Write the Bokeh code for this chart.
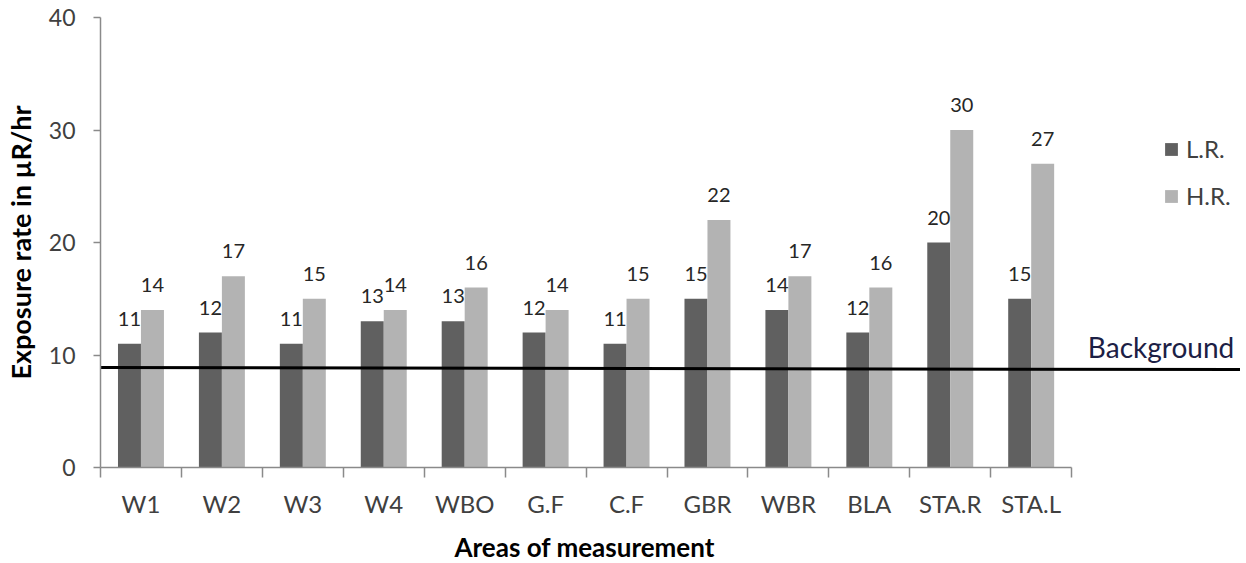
import numpy as np
from bokeh.plotting import figure
from bokeh.models import (Range1d, FixedTicker, Legend, LegendItem, Label, Title, ColumnDataSource)
from bokeh.core.properties import value
from bokeh.embed import file_html
from bokeh.resources import INLINE

# ---------------- data ----------------
categories = ["W1", "W2", "W3", "W4", "WBO", "G.F", "C.F", "GBR", "WBR", "BLA", "STA.R", "STA.L"]
lr_values = [11, 12, 11, 13, 13, 12, 11, 15, 14, 12, 20, 15]
hr_values = [14, 17, 15, 14, 16, 14, 15, 22, 17, 16, 30, 27]
series_names = ["L.R.", "H.R."]
background_level = [8.9, 8.7]   # hand drawn line, left end / right end
y_ticks = [0, 10, 20, 30, 40]

# ---------------- style ----------------
FONT = "Lato"
DARK = "#606060"
LIGHT = "#b3b3b3"
AXIS = "#8a8a8a"
TXT = "#404040"
BAR_W = 0.284
X_END = 1141 / 81.0

n = len(categories)
centers = np.arange(n) + 0.5
x_lr = centers - BAR_W / 2
x_hr = centers + BAR_W / 2

p = figure(width=1240, height=563, output_backend="svg", toolbar_location=None,
           x_range=Range1d(0, X_END), y_range=Range1d(0, 40),
           min_border_left=99, min_border_right=0, min_border_top=17, min_border_bottom=96)
p.outline_line_color = None
p.xgrid.grid_line_color = None
p.ygrid.grid_line_color = None
p.background_fill_color = "white"

src_lr = ColumnDataSource(dict(x=x_lr, top=lr_values, lab=[str(v) for v in lr_values]))
src_hr = ColumnDataSource(dict(x=x_hr, top=hr_values, lab=[str(v) for v in hr_values]))

r_lr = p.vbar(x="x", top="top", bottom=0, width=BAR_W, source=src_lr,
              fill_color=DARK, line_color=None)
r_hr = p.vbar(x="x", top="top", bottom=0, width=BAR_W, source=src_hr,
              fill_color=LIGHT, line_color=None)

for src in (src_lr, src_hr):
    p.text(x="x", y="top", text="lab", source=src, text_font=value(FONT),
           text_font_size="20px", text_color="#262626", text_align="center",
           text_baseline="alphabetic", y_offset=-25)

# background line
p.line(x=[0, X_END], y=background_level, line_color="black", line_width=3)
p.add_layout(Label(x=12.2, y=9.75, y_offset=11, text="Background", text_font=FONT,
                   text_font_size="28px", text_color="#1c2045",
                   text_baseline="alphabetic", text_align="left"))

# x axis
xa = p.xaxis[0]
xa.bounds = (0, n)
xa.ticker = FixedTicker(ticks=list(centers), minor_ticks=list(range(n + 1)))
xa.major_label_overrides = {float(c): lab for c, lab in zip(centers, categories)}
xa.major_tick_out = 0
xa.major_tick_in = 0
xa.minor_tick_out = 10
xa.minor_tick_in = 0
xa.minor_tick_line_color = AXIS
xa.minor_tick_line_width = 1.5
xa.axis_line_color = AXIS
xa.axis_line_width = 1.5
xa.major_label_text_font = FONT
xa.major_label_text_font_size = "24px"
xa.major_label_text_color = TXT
xa.major_label_standoff = 11
# blank spacer label: pushes the title panel down without moving tick labels
xa.axis_label = " "
xa.axis_label_text_font_size = "2px"
xa.axis_label_standoff = 3

# x axis title (centred under the category span, not under the whole frame)
p.add_layout(Title(text="Areas of measurement", align="left", offset=354,
                   text_font=FONT, text_font_size="26px", text_font_style="bold",
                   text_color="black", standoff=1), "below")

# y axis
ya = p.yaxis[0]
ya.ticker = FixedTicker(ticks=y_ticks)
ya.minor_tick_line_color = None
ya.major_tick_out = 7
ya.major_tick_in = 0
ya.major_tick_line_color = AXIS
ya.major_tick_line_width = 1.5
ya.axis_line_color = AXIS
ya.axis_line_width = 1.5
ya.major_label_text_font = FONT
ya.major_label_text_font_size = "23px"
ya.major_label_text_color = TXT
ya.major_label_standoff = 18
ya.axis_label = "Exposure rate in µR/hr"
ya.axis_label_text_font = FONT
ya.axis_label_text_font_size = "27px"
ya.axis_label_text_font_style = "bold"
ya.axis_label_text_color = "black"
ya.axis_label_standoff = 9

legend = Legend(items=[LegendItem(label=series_names[0], renderers=[r_lr]),
                       LegendItem(label=series_names[1], renderers=[r_hr])],
                location=(1063, 257), padding=0, margin=0, spacing=18,
                glyph_width=16, glyph_height=16, label_standoff=7,
                label_text_font=FONT, label_text_font_size="24px",
                label_text_color=TXT, border_line_color=None,
                background_fill_alpha=0)
p.add_layout(legend)

open("out.html", "w").write(file_html(p, INLINE))
